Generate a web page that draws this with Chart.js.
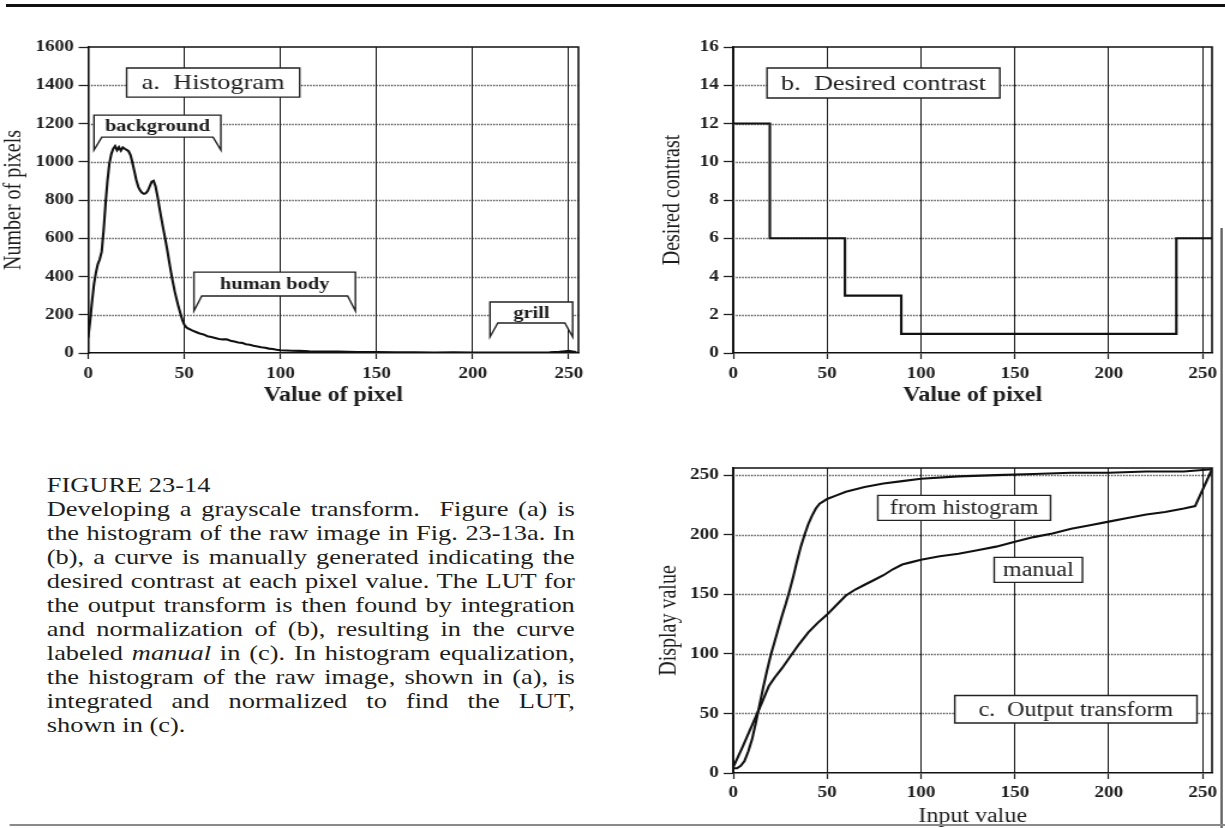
<!DOCTYPE html>
<html>
<head>
<meta charset="utf-8">
<title>Figure 23-14</title>
<script src="https://cdn.jsdelivr.net/npm/chart.js@4.4.1/dist/chart.umd.min.js"></script>
<style>
  body { margin: 0; background: #fff; width: 1225px; height: 828px; overflow: hidden; }
  /* the scanned page is stretched sideways by about 1.2, so the whole layout is too */
  #page { position: relative; width: 1021px; height: 828px; background: #fff; font-family: 'Liberation Serif', serif; color: #1e1e1e; transform: scaleX(1.2); transform-origin: 0 0; }
  #page canvas { position: absolute; }
  .rule-top { position: absolute; left: 5px; top: 4px; width: 1016px; height: 3px; background: #111; }
  .rule-bottom { position: absolute; left: 8px; top: 824px; width: 1013px; height: 2px; background: #8a8a8a; }
  .rule-right { position: absolute; left: 1017px; top: 228px; width: 1.7px; height: 600px; background: #666; }
  #caption { position: absolute; left: 39px; top: 473px; width: 440px; font-size: 22px; line-height: 24px; }
  #caption .ln { text-align: justify; text-align-last: justify; }
  #caption .last { text-align: left; text-align-last: left; }
</style>
</head>
<body>
<div id="page">
  <div class="rule-top"></div>
  <div class="rule-right"></div>
  <canvas id="chart-a" width="510" height="390" style="left:0px; top:20px;"></canvas>
  <canvas id="chart-b" width="504" height="390" style="left:517px; top:20px;"></canvas>
  <canvas id="chart-c" width="504" height="388" style="left:517px; top:440px;"></canvas>
  <div id="caption">
    <div>FIGURE 23-14</div>
    <div class="ln">Developing a grayscale transform.&nbsp; Figure (a) is</div>
    <div class="ln">the histogram of the raw image in Fig. 23-13a. In</div>
    <div class="ln">(b), a curve is manually generated indicating the</div>
    <div class="ln">desired contrast at each pixel value. The LUT for</div>
    <div class="ln">the output transform is then found by integration</div>
    <div class="ln">and normalization of (b), resulting in the curve</div>
    <div class="ln">labeled <i>manual</i> in (c). In histogram equalization,</div>
    <div class="ln">the histogram of the raw image, shown in (a), is</div>
    <div class="ln">integrated and normalized to find the LUT,</div>
    <div class="last">shown in (c).</div>
  </div>
  <div class="rule-bottom"></div>
</div>
<script>
// ---- values ----
const pixelTicks = [0, 50, 100, 150, 200, 250];

// (a) histogram of the raw image
const histValue = [0, 1, 2, 3, 4, 5, 6, 7, 8, 9,
  10, 11, 12, 13, 14, 15, 16, 17, 18, 19,
  20, 21, 22, 23, 24, 25, 26, 27, 28, 29,
  30, 31, 32, 33, 34, 35, 36, 37, 38, 39,
  40, 41, 42, 43, 44, 45, 46, 47, 48, 49,
  50, 51, 52, 53, 54, 56, 58, 60, 62, 64,
  66, 68, 70, 72, 74, 76, 78, 80, 82, 84,
  86, 88, 90, 92, 94, 96, 98, 100, 103, 106,
  110, 115, 120, 125, 130, 135, 140, 150, 160, 170,
  180, 190, 200, 210, 220, 230, 240, 245, 248, 250,
  252, 254];
const histCount = [80, 170, 270, 360, 420, 465, 490, 530, 640, 780,
  900, 990, 1040, 1068, 1082, 1060, 1076, 1058, 1075, 1068,
  1062, 1055, 1035, 995, 950, 905, 870, 850, 838, 832,
  836, 848, 872, 895, 900, 872, 822, 762, 705, 652,
  600, 545, 485, 425, 372, 322, 280, 240, 205, 172,
  148, 135, 128, 124, 118, 110, 102, 97, 88, 84,
  79, 73, 71, 72, 64, 60, 55, 53, 46, 43,
  38, 34, 30, 27, 23, 21, 17, 14, 13, 12,
  11, 9, 8, 7, 7, 6, 5, 5, 4, 4,
  3, 4, 2, 3, 2, 3, 4, 6, 9, 11,
  8, 5];
const countTicks = [0, 200, 400, 600, 800, 1000, 1200, 1400, 1600];

// (b) desired contrast, each level starts at the given pixel value
const contrastStart = [0, 19.5, 59.5, 89.5, 236, 255];
const contrastLevel = [12, 6, 3, 1, 6, 6];
const contrastTicks = [0, 2, 4, 6, 8, 10, 12, 14, 16];

// (c) output transforms
const histLutInput = [0, 2, 4, 6, 8, 10, 12, 14, 16, 18,
  20, 22, 24, 26, 28, 30, 32, 34, 36, 38,
  40, 42, 44, 46, 48, 50, 55, 60, 70, 80,
  90, 100, 120, 140, 160, 180, 200, 220, 240, 255];
const histLutOutput = [4, 4, 6, 10, 18, 28, 42, 57, 72, 86,
  99, 110, 121, 132, 142, 153, 165, 178, 190, 200,
  209, 216, 222, 226, 228, 230, 233, 236, 240, 243,
  245, 247, 249, 250, 251, 252, 252, 253, 253, 255];
const manualLutInput = [0, 5, 10, 15, 19, 22, 26, 30, 35, 40,
  45, 50, 55, 60, 65, 70, 75, 80, 85, 90,
  95, 100, 110, 120, 130, 140, 150, 160, 170, 180,
  190, 200, 210, 220, 230, 240, 246, 255];
const manualLutOutput = [5, 22, 40, 58, 73, 80, 88, 97, 108, 118,
  126, 133, 141, 149, 154, 158, 162, 166, 171, 175,
  177, 179, 182, 184, 187, 190, 194, 198, 201, 205,
  208, 211, 214, 217, 219, 222, 224, 255];
const displayTicks = [0, 50, 100, 150, 200, 250];

// boxed labels, in data units of their panel
const labelsA = [
  { text: 'a.  Histogram', x1: 20, x2: 110, y1: 1490, y2: 1338, font: "22px 'Liberation Serif', serif" },
  { text: 'background', x1: 3, x2: 69, y1: 1244, y2: 1129, foot: 1061, font: "bold 17px 'Liberation Serif', serif" },
  { text: 'human body', x1: 55, x2: 139, y1: 423, y2: 298, foot: 220, font: "bold 17px 'Liberation Serif', serif" },
  { text: 'grill', x1: 209, x2: 252, y1: 267, y2: 157, foot: 84, font: "bold 17px 'Liberation Serif', serif" }
];
const labelsB = [
  { text: 'b.  Desired contrast', x1: 18, x2: 142, y1: 14.9, y2: 13.33, font: "22px 'Liberation Serif', serif" }
];
const labelsC = [
  { text: 'from histogram', x1: 77, x2: 169, y1: 233, y2: 212, font: "20px 'Liberation Serif', serif" },
  { text: 'manual', x1: 139, x2: 186, y1: 181, y2: 160, font: "20px 'Liberation Serif', serif" },
  { text: 'c.  Output transform', x1: 118, x2: 247, y1: 65, y2: 42, font: "20px 'Liberation Serif', serif" }
];

Chart.defaults.font.family = "'Liberation Serif', serif";
Chart.defaults.color = '#1e1e1e';

const toPoints = (xs, ys) => xs.map((x, i) => ({ x: x, y: ys[i] }));

// dotted horizontal grid, drawn under the curves
const dottedGrid = {
  id: 'dottedGrid',
  beforeDatasetsDraw(chart) {
    const { ctx, chartArea: a, scales: { y } } = chart;
    ctx.save();
    ctx.strokeStyle = '#3a3a3a';
    ctx.lineWidth = 1.3;
    ctx.setLineDash([1.2, 1.3]);
    y.ticks.forEach(t => {
      if (t.value === y.min || t.value === y.max) return;
      const py = Math.round(y.getPixelForValue(t.value)) + 0.5;
      ctx.beginPath();
      ctx.moveTo(a.left, py);
      ctx.lineTo(a.right, py);
      ctx.stroke();
    });
    ctx.restore();
  }
};

// top and right edges of the plot box
const frame = {
  id: 'frame',
  afterDraw(chart) {
    const { ctx, chartArea: a } = chart;
    ctx.save();
    ctx.strokeStyle = '#111';
    ctx.lineWidth = 1.6;
    ctx.beginPath();
    ctx.moveTo(a.left, a.top);
    ctx.lineTo(a.right, a.top);
    ctx.lineTo(a.right, a.bottom);
    ctx.stroke();
    ctx.restore();
  }
};

function boxLabels(items) {
  return {
    id: 'boxLabels',
    afterDraw(chart) {
      const { ctx, scales: { x, y } } = chart;
      items.forEach(it => {
        const l = x.getPixelForValue(it.x1), r = x.getPixelForValue(it.x2);
        const t = y.getPixelForValue(it.y1), b = y.getPixelForValue(it.y2);
        ctx.save();
        ctx.fillStyle = '#fff';
        ctx.strokeStyle = '#222';
        ctx.lineWidth = 1.4;
        ctx.beginPath();
        if (it.foot !== undefined) {
          const f = y.getPixelForValue(it.foot);
          ctx.moveTo(l, t);
          ctx.lineTo(r, t);
          ctx.lineTo(r, f);
          ctx.lineTo(r - 6.5, b);
          ctx.lineTo(l + 6.5, b);
          ctx.lineTo(l, f);
          ctx.closePath();
        } else {
          ctx.rect(l, t, r - l, b - t);
        }
        ctx.fill();
        ctx.stroke();
        ctx.fillStyle = '#1e1e1e';
        ctx.font = it.font;
        ctx.textAlign = 'center';
        ctx.textBaseline = 'middle';
        ctx.fillText(it.text, (l + r) / 2, (t + b) / 2 + 1);
        ctx.restore();
      });
    }
  };
}

function drawPanel(id, opt) {
  return new Chart(document.getElementById(id), {
    type: 'line',
    data: {
      datasets: opt.series.map(s => ({
        data: s,
        borderColor: '#111',
        borderWidth: 2.1,
        pointRadius: 0,
        tension: 0,
        fill: false,
        stepped: opt.stepped || false
      }))
    },
    options: {
      responsive: false,
      animation: false,
      events: [],
      layout: { padding: opt.padding },
      plugins: { legend: { display: false }, tooltip: { enabled: false } },
      scales: {
        x: {
          type: 'linear',
          min: 0,
          max: 255,
          afterBuildTicks: s => { s.ticks = pixelTicks.map(v => ({ value: v })); },
          afterFit: s => { s.height = opt.xHeight; },
          grid: { color: '#1a1a1a', lineWidth: 1, tickLength: 6, tickColor: '#1a1a1a', tickWidth: 1.2 },
          border: { display: true, color: '#111', width: 1.6 },
          ticks: { font: { size: 16, weight: 'bold' }, color: '#1e1e1e', padding: opt.xTickPad, maxRotation: 0, autoSkip: false, callback: v => v },
          title: { display: true, text: opt.xTitle, font: opt.xTitleFont, color: '#1e1e1e', padding: { top: 0, bottom: opt.xTitlePad } }
        },
        y: {
          type: 'linear',
          min: 0,
          max: opt.yMax,
          afterBuildTicks: s => { s.ticks = opt.yTicks.map(v => ({ value: v })); },
          afterFit: s => { s.width = opt.yWidth; },
          grid: { drawOnChartArea: false, tickLength: 8, tickColor: '#222', tickWidth: 1.3 },
          border: { display: true, color: '#111', width: 1.6 },
          ticks: { font: { size: 16, weight: 'bold' }, color: '#1e1e1e', padding: 4, callback: v => v },
          title: { display: true, text: opt.yTitle, font: { size: 20 }, color: '#1e1e1e', padding: { top: opt.yTitlePad, bottom: 0 } }
        }
      }
    },
    plugins: [dottedGrid, frame, boxLabels(opt.labels)]
  });
}

drawPanel('chart-a', {
  series: [toPoints(histValue, histCount)],
  padding: { top: 27, right: 28, left: 0, bottom: 0 },
  yMax: 1600, yTicks: countTicks, yWidth: 73.5, yTitle: 'Number of pixels', yTitlePad: 0,
  xHeight: 57, xTickPad: 5, xTitle: 'Value of pixel', xTitleFont: { size: 20, weight: 'bold', lineHeight: 1.1 }, xTitlePad: 3,
  labels: labelsA
});

drawPanel('chart-b', {
  series: [toPoints(contrastStart, contrastLevel)],
  stepped: 'before',
  padding: { top: 27, right: 11, left: 0, bottom: 0 },
  yMax: 16, yTicks: contrastTicks, yWidth: 94, yTitle: 'Desired contrast', yTitlePad: 32,
  xHeight: 57, xTickPad: 5, xTitle: 'Value of pixel', xTitleFont: { size: 20, weight: 'bold', lineHeight: 1.1 }, xTitlePad: 3,
  labels: labelsB
});

drawPanel('chart-c', {
  series: [toPoints(histLutInput, histLutOutput), toPoints(manualLutInput, manualLutOutput)],
  padding: { top: 28, right: 11, left: 0, bottom: 0 },
  yMax: 256, yTicks: displayTicks, yWidth: 94, yTitle: 'Display value', yTitlePad: 29,
  xHeight: 55, xTickPad: 4, xTitle: 'Input value', xTitleFont: { size: 20, lineHeight: 1.1 }, xTitlePad: 0,
  labels: labelsC
});
</script>
</body>
</html>
